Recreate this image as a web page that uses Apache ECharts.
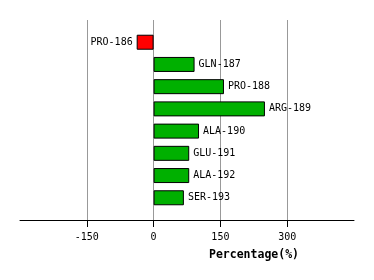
<!DOCTYPE html>
<html><head><meta charset="utf-8">
<script src="https://cdn.jsdelivr.net/npm/echarts@6/dist/echarts.min.js"></script>
<style>html,body{margin:0;padding:0;background:#fff}#c{width:374px;height:280px}</style>
</head><body><div id="c"></div>
<script>
const categories = ['PRO-186','GLN-187','PRO-188','ARG-189','ALA-190','GLU-191','ALA-192','SER-193'];
const values = [-38, 92, 158, 250, 102, 80, 80, 68];
const tickValues = [-150, 0, 150, 300];
const axisTitle = 'Percentage(%)';

const font = 'DejaVu Sans Mono';
const cats = [''].concat(categories).concat(['']);
const data = [null].concat(values.map(v => ({
  value: v,
  itemStyle: { color: v < 0 ? '#ff0000' : '#00b000' },
  label: { position: v < 0 ? 'left' : 'right' }
}))).concat([null]);

const chart = echarts.init(document.getElementById('c'), null, {renderer: 'canvas'});
chart.setOption({
  animation: false,
  backgroundColor: '#fff',
  grid: { left: 20, right: 20, top: 20, bottom: 60, containLabel: false },
  xAxis: {
    type: 'value', min: -300, max: 450, interval: 150,
    axisLine: { show: true, onZero: false, lineStyle: { color: '#000', width: 1 } },
    axisTick: { show: true, length: 7, lineStyle: { color: '#000' }, customValues: tickValues },
    axisLabel: { customValues: tickValues, color: '#000', fontFamily: font, fontSize: 10, margin: 12 },
    splitLine: { show: true, lineStyle: { color: '#999', width: 1 } }
  },
  yAxis: {
    type: 'category', data: cats, inverse: true, boundaryGap: false,
    axisLine: { show: false }, axisTick: { show: false }, axisLabel: { show: false }, splitLine: { show: false }
  },
  series: [{
    type: 'bar', data: data, barWidth: 15,
    itemStyle: { borderColor: '#000', borderWidth: 1 },
    label: {
      show: true, distance: 4, color: '#000', fontFamily: font, fontSize: 10,
      formatter: p => cats[p.dataIndex]
    }
  }],
  graphic: [{
    type: 'text', left: 209, top: 249,
    style: { text: axisTitle, fill: '#000', font: 'bold 11.5px "DejaVu Sans Mono"' }
  }]
});
</script></body></html>
